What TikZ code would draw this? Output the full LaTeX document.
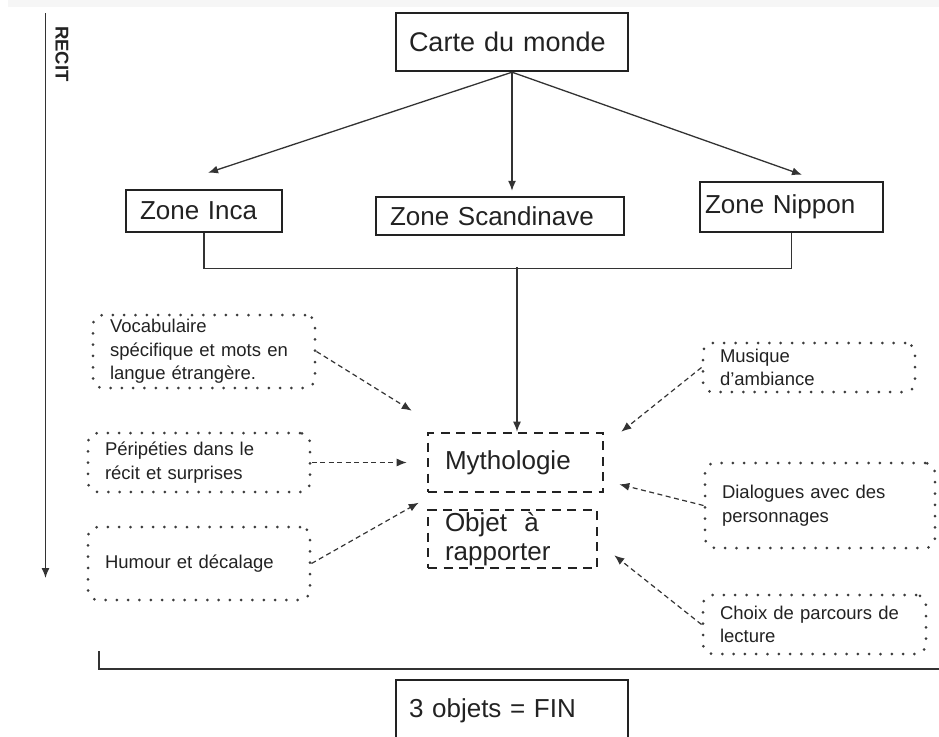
\documentclass[tikz,border=0pt]{standalone}
\usepackage{fontspec}
\setmainfont{Liberation Sans}
\usetikzlibrary{arrows.meta, positioning}
\definecolor{ink}{RGB}{34,34,34}
\definecolor{wire}{RGB}{51,51,51}
\definecolor{dotgray}{RGB}{60,60,60}

\begin{document}
\begin{tikzpicture}[x=1pt, y=-1pt,
			zone/.style={draw=ink, line width=2.4pt, text=ink, align=left, inner ysep=0pt, font=\fontsize{26}{28}\selectfont},
			theme/.style={zone, dash pattern=on 9pt off 6.5pt, line width=2.6pt, inner xsep=17pt},
			idea/.style={draw=dotgray, line width=3pt, dash pattern=on 0pt off 11.3pt, line cap=round, rounded corners=10pt, text=ink, align=left, inner xsep=17pt, inner ysep=0pt, font=\fontsize{18.5}{23.5}\selectfont},
			link/.style={draw=wire, line width=1.3pt, -{Latex[length=10pt,width=8pt]}},
			hint/.style={link, line width=1.2pt, dash pattern=on 5pt off 3.5pt}
			]
			% Frame
			\clip (0,0) rectangle (939,736);
			\fill[gray!7] (8,0) rectangle (939,7);
			
			% Time axis
			\coordinate (recittop) at (45.5,13);
			\coordinate (recitend) at (45.5,578);
			\draw[link] (recittop) -- (recitend);
			\node[rotate=-90, text=ink, font=\bfseries\fontsize{18.5}{18.5}\selectfont] (recit) at (62,54) {RECIT};
			
			% Map and zones
			\node[zone, inner xsep=13pt, text width=206pt, minimum height=58pt, font=\fontsize{27}{29}\selectfont] (carte) at (512,42) {Carte du monde};
			\node[zone, inner xsep=14pt, text width=128pt, minimum height=42pt] (inca) at (204,211) {Zone Inca};
			\node[zone, inner xsep=14pt, text width=220pt, minimum height=38pt] (scand) at (500,216) {Zone Scandinave};
			\node[zone, inner xsep=5pt, text width=173pt, minimum height=50pt] (nippon) at (791.5,207) {Zone Nippon};
			
			% Quest
			\node[theme, text width=141pt, minimum height=59pt] (myth) at (515.5,462.5) {Mythologie};
			\node[theme, text width=135pt, minimum height=58pt, font=\fontsize{26}{29}\selectfont] (objet) at (512.5,539) {Objet \ à\\rapporter};
			
			% Ingredients
			\node[idea, text width=188pt, minimum height=73pt] (vocab) at (204,351.5) {Vocabulaire\\spécifique et mots en\\langue étrangère.};
			\node[idea, text width=188pt, minimum height=59pt] (peri) at (199,462.5) {Péripéties dans le\\récit et surprises};
			\node[idea, text width=188pt, minimum height=73pt] (humour) at (199,563.5) {Humour et décalage};
			\node[idea, text width=178pt, minimum height=49pt] (musique) at (809,367.5) {Musique\\d’ambiance};
			\node[idea, text width=196pt, minimum height=85pt] (dialog) at (820,505.5) {Dialogues avec des\\personnages};
			\node[idea, text width=189pt, minimum height=59pt] (choix) at (814.5,624.5) {Choix de parcours de\\lecture};
			
			% End
			\node[zone, inner xsep=13pt, text width=206pt, minimum height=62pt] (fin) at (512,711) {3 objets = FIN};
			
			% Connections map
			\draw[link] (carte.south) -- ([xshift=4pt,yshift=16pt]inca.north);
			\draw[link] (carte.south) -- ([xshift=12pt,yshift=5pt]scand.north);
			\draw[link] (carte.south) -- ([xshift=10.5pt,yshift=6pt]nippon.north);
			\draw[draw=wire, line width=1.3pt] (inca.south) -- ++(0,35) -| (nippon.south);
			\coordinate (merge) at (517,267);
			\draw[link] (merge) -- (merge |- myth.north);
			
			% Connections ingredients
			\draw[hint] (vocab.east) -- ([xshift=-15pt,yshift=21pt]myth.north west);
			\draw[hint] (peri.east) -- ([xshift=-20pt]myth.west);
			\draw[hint] (humour.east) -- ([xshift=-8pt,yshift=6pt]objet.north west);
			\draw[hint] (musique.west) -- ([xshift=17pt]myth.north east);
			\draw[hint] (dialog.west) -- ([xshift=15pt,yshift=9pt]myth.south east);
			\draw[hint] (choix.west) -- ([xshift=16pt,yshift=14pt]objet.south east);
			
			% Bracket
			\coordinate (fincorner) at (99,651);
			\coordinate (finedge) at (939,669);
			\draw[draw=wire, line width=1.4pt] (fincorner) |- (finedge);
		\end{tikzpicture}
\end{document}
